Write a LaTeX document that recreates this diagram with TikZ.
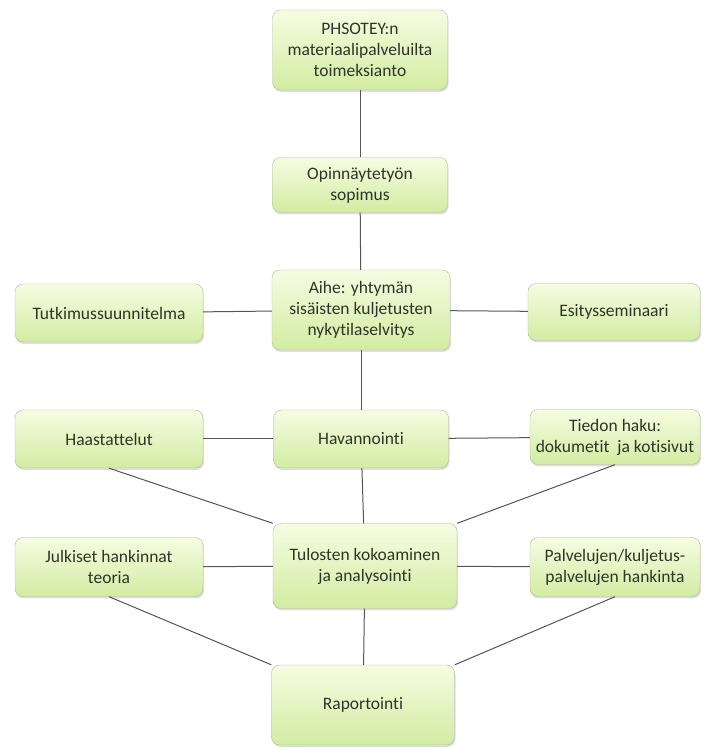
\documentclass[tikz,border=0pt]{standalone}
\usepackage{fontspec}
\setmainfont[Ligatures=NoCommon]{Carlito}
\usetikzlibrary{shadows}
\definecolor{boxtop}{HTML}{F6FCE2}
\definecolor{boxbot}{HTML}{D2ECA2}
\definecolor{boxline}{HTML}{B0B89C}
\definecolor{boxtext}{HTML}{2F3428}
\definecolor{linkcol}{HTML}{555555}
\tikzset{
  box/.style={draw=boxline, rounded corners=8pt, top color=boxtop, bottom color=boxbot,
    drop shadow={shadow xshift=1pt, shadow yshift=-2pt, opacity=0.25},
    align=center, text=boxtext, inner sep=2pt,
    font=\fontsize{17.5}{21}\selectfont},
  link/.style={draw=linkcol, line width=1pt}
}
\begin{document}
\begin{tikzpicture}[x=1pt,y=1pt]
\useasboundingbox (0,0) rectangle (704,749);
% middle column
\node[box, minimum width=175pt, minimum height=80pt] (toim) at (360,699) {PHSOTEY:n\\materiaalipalveluilta\\toimeksianto};
\node[box, minimum width=175pt, minimum height=55pt] (sopi) at (360,564) {Opinnäytetyön\\sopimus};
\node[box, minimum width=178pt, minimum height=80pt] (aihe) at (361,439) {Aihe: yhtymän\\sisäisten kuljetusten\\nykytilaselvitys};
\node[box, minimum width=175pt, minimum height=58pt] (hava) at (361,310) {Havannointi};
\node[box, minimum width=184pt, minimum height=85pt] (tulo) at (365,183) {Tulosten kokoaminen\\ja analysointi};
\node[box, minimum width=183pt, minimum height=80pt] (rapo) at (363,44) {Raportointi};
% left column
\node[box, minimum width=188pt, minimum height=58pt] (tutk) at (109,436) {Tutkimussuunnitelma};
\node[box, minimum width=188pt, minimum height=58pt] (haas) at (109,310) {Haastattelut};
\node[box, minimum width=188pt, minimum height=59pt] (julk) at (109,182) {Julkiset hankinnat\\teoria};
% right column
\node[box, minimum width=172pt, minimum height=57pt] (esit) at (614,437) {Esitysseminaari};
\node[box, minimum width=170pt, minimum height=55pt] (tied) at (615,312) {Tiedon haku:\\dokumetit\ \ ja kotisivut};
\node[box, minimum width=170pt, minimum height=59pt] (palv) at (615,182) {Palvelujen/kuljetus-\\palvelujen hankinta};
% links
\draw[link] (toim) -- (sopi);
\draw[link] (sopi) -- (aihe);
\draw[link] (aihe) -- (tutk);
\draw[link] (aihe) -- (esit);
\draw[link] (aihe) -- (hava);
\draw[link] (hava) -- (haas);
\draw[link] (hava) -- (tied);
\draw[link] (hava) -- (tulo);
\draw[link] (haas.south) -- (tulo.north west);
\draw[link] (tied.south) -- (tulo.north east);
\draw[link] (tulo) -- (julk);
\draw[link] (tulo) -- (palv);
\draw[link] (tulo) -- (rapo);
\draw[link] (julk.south) -- (rapo.north west);
\draw[link] (palv.south) -- (rapo.north east);
\end{tikzpicture}
\end{document}
